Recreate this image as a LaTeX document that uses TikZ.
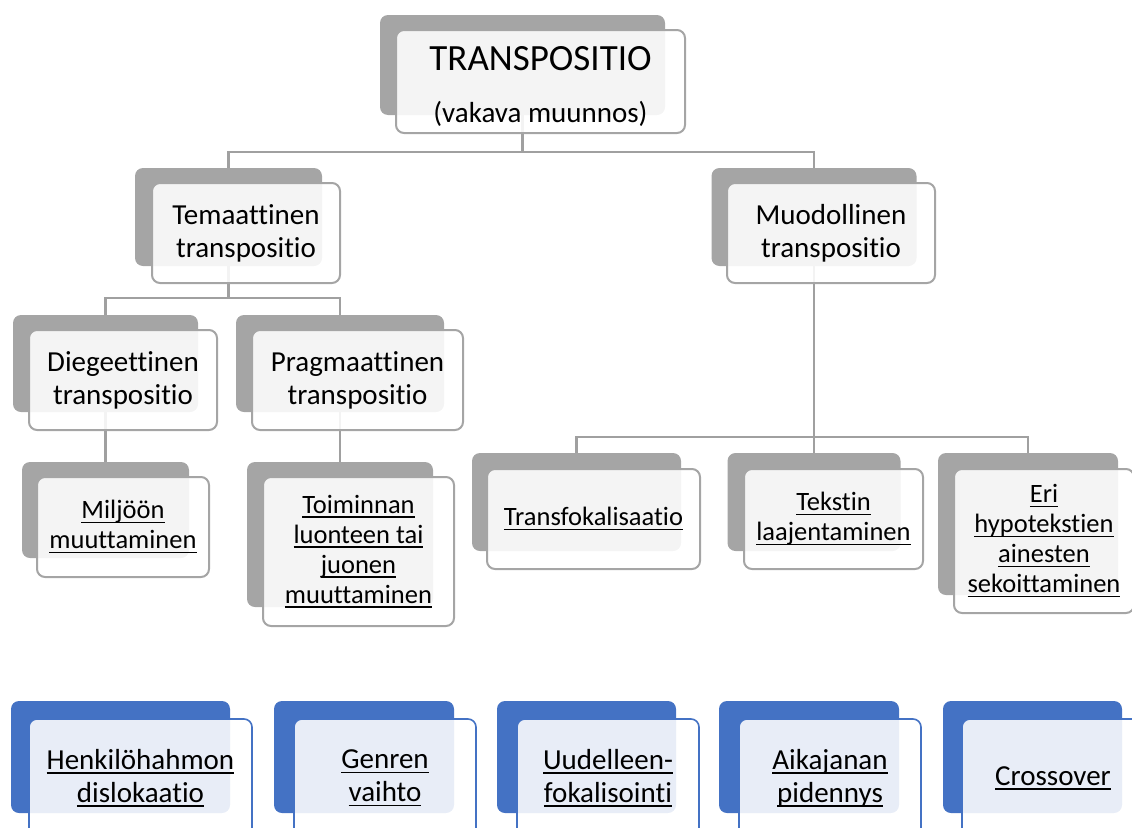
\documentclass[tikz,border=0pt]{standalone}
\usepackage{fontspec}
\setmainfont{Carlito}[RawFeature={-liga;-clig;-calt;-dlig}]
\newcommand{\uln}[1]{\leavevmode\setbox0\hbox{#1}\rlap{\rule[-4.5pt]{\wd0}{1.6pt}}\box0}
\definecolor{boxgray}{HTML}{A5A5A5}
\definecolor{linegray}{HTML}{A0A0A0}
\definecolor{boxblue}{HTML}{4472C4}

\begin{document}
\begin{tikzpicture}[x=1pt,y=-1pt,
    sz/.style 2 args={minimum width=#1pt,minimum height=#2pt},
    back/.style={rectangle,rounded corners=8pt,fill=boxgray,inner sep=0pt},
    front/.style={rectangle,rounded corners=8pt,draw=boxgray,line width=2pt,
      fill=white,fill opacity=0.88,text opacity=1,align=center,inner sep=0pt,
      font=\fontsize{29}{33}\selectfont},
    leaf/.style={front,font=\fontsize{26.5}{30}\selectfont},
    bback/.style={back,fill=boxblue},
    bfront/.style={front,draw=boxblue,line width=1.6pt},
    link/.style={draw=linegray,line width=2.5pt}]
    \useasboundingbox(0,0) rectangle (1132,827);
    \clip(0,0) rectangle (1132,827);
    \node[back,sz={285}{100}] (topb) at (522.5,65) {};
    \node[back,sz={187}{98}] (temb) at (228.5,217) {};
    \node[back,sz={205}{98}] (muob) at (814,217) {};
    \node[back,sz={185}{97}] (dieb) at (105.5,363.5) {};
    \node[back,sz={208}{97}] (prab) at (340,363.5) {};
    \node[back,sz={167}{96}] (milb) at (105.5,510) {};
    \node[back,sz={186}{145}] (toib) at (340,534.5) {};
    \node[back,sz={209}{98}] (trab) at (576.5,502) {};
    \node[back,sz={173}{98}] (tekb) at (814,502) {};
    \node[back,sz={180}{142}] (erib) at (1028,524) {};
    \draw[link](topb.south)--++(0,37)-|(temb.north);
    \draw[link](topb.south)--++(0,37)-|(muob.north);
    \draw[link](temb.south)--++(0,32)-|(dieb.north);
    \draw[link](temb.south)--++(0,32)-|(prab.north);
    \draw[link](dieb.south)--(milb.north);
    \draw[link](prab.south)--(toib.north);
    \draw[link](muob.south)--++(0,171)-|(trab.north);
    \draw[link](muob.south)--++(0,171)-|(tekb.north);
    \draw[link](muob.south)--++(0,171)-|(erib.north);
    \node[front,sz={289}{103},font=\fontsize{29}{52}\selectfont] (topf) at (540.5,81.5)
      {{\fontsize{37}{44}\selectfont\rule{0pt}{34pt}TRANSPOSITIO}\\(vakava muunnos)};
    \node[front,sz={188}{100}] (temf) at (246,233) {Temaattinen\\transpositio};
    \node[front,sz={208}{100}] (muof) at (831,233) {Muodollinen\\transpositio};
    \node[front,sz={188}{100}] (dief) at (123,380) {Diegeettinen\\transpositio};
    \node[front,sz={211}{100}] (praf) at (357.5,380) {Pragmaattinen\\transpositio};
    \node[leaf,sz={172}{100}] (milf) at (123,527) {\uln{Miljöön}\\\uln{muuttaminen}};
    \node[leaf,sz={191}{149}] (toif) at (358.5,551.5)
      {\uln{Toiminnan}\\\uln{luonteen tai}\\\uln{juonen}\\\uln{muuttaminen}};
    \node[leaf,sz={213}{100}] (traf) at (593.5,519) {\uln{Transfokalisaatio}};
    \node[leaf,sz={179}{100}] (tekf) at (833.5,519) {\uln{Tekstin}\\\uln{laajentaminen}};
    \node[leaf,sz={180}{144}] (erif) at (1044,541)
      {\uln{Eri}\\\uln{hypotekstien}\\\uln{ainesten}\\\uln{sekoittaminen}};
    \node[bback,sz={219}{112}] (henb) at (120.5,757) {};
    \node[bback,sz={180}{112}] (genb) at (364,757) {};
    \node[bback,sz={179}{112}] (uudb) at (586.5,757) {};
    \node[bback,sz={180}{112}] (aikb) at (809,757) {};
    \node[bback,sz={179}{112}] (crob) at (1032.5,757) {};
    \node[bfront,sz={223}{118}] (henf) at (140.5,778) {\uln{Henkilöhahmon}\\\uln{dislokaatio}};
    \node[bfront,sz={182}{118}] (genf) at (385,778) {\uln{Genren}\\\uln{vaihto}};
    \node[bfront,sz={182}{118}] (uudf) at (608,778) {\uln{Uudelleen-}\\\uln{fokalisointi}};
    \node[bfront,sz={182}{118}] (aikf) at (830,778) {\uln{Aikajanan}\\\uln{pidennys}};
    \node[bfront,sz={182}{118}] (crof) at (1053,778) {\uln{Crossover}};
  \end{tikzpicture}
\end{document}
